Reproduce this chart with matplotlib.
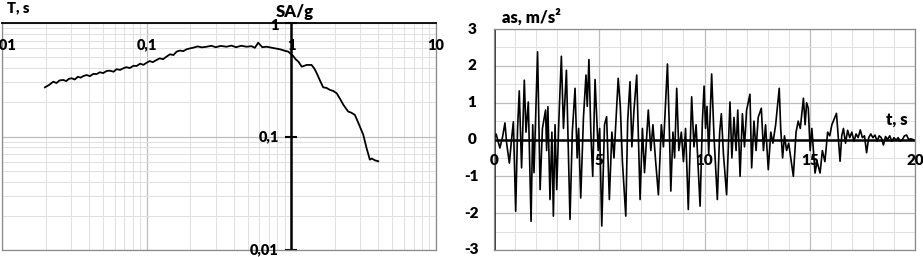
import matplotlib
matplotlib.use('Agg')
import matplotlib.pyplot as plt
from matplotlib.ticker import LogLocator, MultipleLocator, NullFormatter

plt.rcParams['font.family'] = ['Lato', 'DejaVu Sans']

# response spectrum (period T, s  ->  SA/g)
period = [0.0198, 0.0212, 0.0226, 0.0238, 0.0250, 0.0265, 0.0278, 0.0290, 0.0303, 0.0318,
          0.0335, 0.0350, 0.0365, 0.0385, 0.0405, 0.0428, 0.0451, 0.0475, 0.0500, 0.0530,
          0.0557, 0.0590, 0.0620, 0.0655, 0.0689, 0.0725, 0.0765, 0.0810, 0.0853, 0.0900,
          0.0950, 0.1000, 0.1050, 0.1100, 0.1170, 0.1230, 0.1300, 0.1370, 0.1450, 0.1530,
          0.1610, 0.1700, 0.1790, 0.1890, 0.2000, 0.2100, 0.2250, 0.2400, 0.2600, 0.2800,
          0.3000, 0.3250, 0.3570, 0.3850, 0.4150, 0.4500, 0.4910, 0.5300, 0.5600, 0.5900,
          0.6300, 0.6750, 0.7200, 0.7700, 0.8340, 0.8900, 0.9530, 1.0300, 1.0700, 1.1200,
          1.1800, 1.2300, 1.2800, 1.3800, 1.4400, 1.5000, 1.5800, 1.6600, 1.7500, 1.8500,
          1.9500, 2.0600, 2.1700, 2.2900, 2.4700, 2.6000, 2.7500, 2.9800, 3.1400, 3.3100,
          3.4900, 3.6000, 3.7800, 3.9900]
sa = [0.271, 0.285, 0.304, 0.296, 0.312, 0.315, 0.308, 0.322, 0.326, 0.318,
      0.336, 0.330, 0.341, 0.348, 0.340, 0.356, 0.355, 0.368, 0.362, 0.378,
      0.380, 0.372, 0.392, 0.386, 0.399, 0.408, 0.401, 0.420, 0.418, 0.438,
      0.428, 0.447, 0.462, 0.452, 0.472, 0.488, 0.480, 0.505, 0.530, 0.522,
      0.559, 0.572, 0.565, 0.587, 0.598, 0.606, 0.622, 0.610, 0.618, 0.630,
      0.612, 0.628, 0.618, 0.632, 0.612, 0.630, 0.618, 0.625, 0.605, 0.670,
      0.612, 0.618, 0.608, 0.598, 0.587, 0.572, 0.559, 0.512, 0.480, 0.456,
      0.412, 0.420, 0.427, 0.427, 0.398, 0.360, 0.310, 0.271, 0.268, 0.257,
      0.252, 0.240, 0.215, 0.190, 0.166, 0.162, 0.155, 0.122, 0.104, 0.0792,
      0.0625, 0.0640, 0.0617, 0.0605]

# accelerogram turning points (t, s  ->  as, m/s2)
t = [0.0, 0.1, 0.28, 0.4, 0.52, 0.6, 0.73, 0.85, 0.92, 1.03,
     1.12, 1.2, 1.31, 1.44, 1.52, 1.63, 1.76, 1.84, 1.9, 2.07,
     2.19, 2.3, 2.45, 2.5, 2.56, 2.66, 2.75, 2.82, 2.9, 2.98,
     3.08, 3.2, 3.3, 3.44, 3.61, 3.72, 3.85, 3.95, 4.02, 4.12,
     4.25, 4.37, 4.43, 4.51, 4.6, 4.69, 4.8, 4.95, 5.02, 5.12,
     5.25, 5.35, 5.48, 5.6, 5.7, 5.9, 6.0, 6.1, 6.26, 6.35,
     6.46, 6.55, 6.65, 6.78, 6.94, 7.05, 7.15, 7.33, 7.45, 7.55,
     7.68, 7.81, 7.95, 8.05, 8.24, 8.32, 8.4, 8.5, 8.58, 8.68,
     8.78, 8.9, 9.0, 9.1, 9.23, 9.39, 9.5, 9.6, 9.79, 9.9,
     9.98, 10.05, 10.12, 10.2, 10.34, 10.45, 10.61, 10.72, 10.8, 10.9,
     11.05, 11.21, 11.3, 11.4, 11.5, 11.58, 11.69, 11.8, 11.9, 12.0,
     12.16, 12.24, 12.35, 12.45, 12.55, 12.7, 12.8, 12.9, 13.03, 13.15,
     13.25, 13.38, 13.55, 13.62, 13.71, 13.8, 13.9, 14.0, 14.1, 14.22,
     14.35, 14.45, 14.55, 14.7, 14.78, 14.85, 14.93, 15.02, 15.1, 15.25,
     15.35, 15.49, 15.6, 15.72, 15.85, 15.95, 16.05, 16.27, 16.35, 16.44,
     16.52, 16.6, 16.7, 16.8, 16.9, 17.0, 17.1, 17.2, 17.3, 17.4,
     17.5, 17.6, 17.7, 17.8, 17.9, 18.0, 18.1, 18.2, 18.3, 18.4,
     18.5, 18.6, 18.7, 18.8, 18.9, 19.0, 19.1, 19.2, 19.3, 19.4,
     19.5, 19.6, 19.7, 19.8, 19.9]
acc = [0.0, 0.15, -0.23, 0.05, 0.45, -0.1, -0.64, 0.1, 0.48, -1.95,
       0.3, 1.32, -0.77, 1.61, 0.2, 1.02, -2.22, 0.4, -0.9, 2.38,
       -1.36, 0.3, 0.8, -0.3, 0.89, -1.63, 0.2, -2.08, 0.4, -1.36,
       0.5, 2.26, 0.3, 1.88, -2.17, 0.2, 1.39, -0.5, 0.3, -1.59,
       0.6, 1.75, 0.9, 2.17, 0.2, -1.0, 1.63, -0.3, 0.3, -2.35,
       0.4, 0.62, -1.63, 0.2, -0.5, 1.66, 0.9, -0.6, -2.08, 0.5,
       1.57, -0.2, 0.8, 1.75, -1.63, 0.3, -0.9, 0.8, -0.3, 0.4,
       -0.6, -1.5, 0.4, -0.2, 2.05, 0.5, -1.4, 0.2, -0.5, 1.39,
       -0.3, 0.2, -0.6, 0.3, -1.9, 1.16, -0.2, 0.4, -1.81, 0.5,
       1.45, 0.3, 0.9, -0.4, 1.78, 0.1, -1.63, 0.2, 0.7, -0.4,
       -1.5, 1.02, -0.5, 0.6, -0.3, 0.8, -1.0, 0.7, -0.2, 0.8,
       1.23, -0.77, 0.5, -0.3, 0.6, 0.85, -0.3, 0.4, -0.82, 0.2,
       -0.1, 0.4, 1.39, 0.3, -0.5, 0.1, -0.3, -0.1, -0.5, -1.0,
       0.2, 0.5, 0.3, 1.12, 0.4, 1.0, 0.85, -0.3, 0.3, -0.91,
       -0.6, -0.91, -0.3, -0.6, 0.2, 0.1, 0.4, 0.71, 0.1, -0.59,
       0.1, 0.3, -0.1, 0.25, 0.05, 0.2, -0.05, 0.15, 0.05, 0.26,
       0.05, 0.1, -0.36, 0.05, 0.15, 0.05, 0.12, -0.05, 0.1, 0.05,
       -0.15, 0.08, 0.0, 0.1, -0.05, 0.05, -0.02, 0.05, -0.05, 0.0,
       0.1, 0.12, 0.0, 0.02, 0.0]

sa_ticks = [1, 0.1, 0.01]
sa_labels = ['1', '0,1', '0,01']
t_ticks = [0.01, 0.1, 1, 10]
t_labels = ['0,01', '0,1', '1', '10']
acc_ticks = [3, 2, 1, 0, -1, -2, -3]
time_ticks = [0, 5, 10, 15, 20]

fig = plt.figure(figsize=(9.23, 2.57), dpi=100)
bold = dict(fontweight='heavy', color='black')

# ---- left: spectrum ----
ax1 = fig.add_axes([2 / 923, 7 / 257, 434 / 923, 227 / 257])
ax1.set_xscale('log')
ax1.set_yscale('log')
ax1.set_xlim(0.01, 10)
ax1.set_ylim(0.01, 1)
ax1.xaxis.set_minor_locator(LogLocator(base=10, subs=range(2, 10)))
ax1.yaxis.set_minor_locator(LogLocator(base=10, subs=range(2, 10)))
ax1.xaxis.set_minor_formatter(NullFormatter())
ax1.yaxis.set_minor_formatter(NullFormatter())
ax1.grid(which='major', color='#bdbdbd', lw=0.9)
ax1.grid(which='minor', color='#e0e0e0', lw=0.7)
ax1.tick_params(which='both', length=0, labelbottom=False, labelleft=False)
for side in ['left', 'right', 'bottom']:
    ax1.spines[side].set_color('#8a8a8a')
    ax1.spines[side].set_linewidth(0.9)
ax1.spines['top'].set_color('black')
ax1.spines['top'].set_linewidth(1.3)
ax1.axvline(1, color='black', lw=1.8)
ax1.plot([1] * len(sa_ticks), sa_ticks, ls='none', marker='_', ms=9, mew=1.5, color='black',
         clip_on=False)
ax1.plot(period, sa, color='black', lw=1.3)
for v, lbl in zip(t_ticks, t_labels):
    ax1.annotate(lbl, (v, 1), xytext=(0, -16), textcoords='offset points',
                 ha='center', va='center', fontsize=10.5, **bold)
for v, lbl in zip(sa_ticks, sa_labels):
    ax1.annotate(lbl, (1, v), xytext=(-9, -2 if v == 1 else 0), textcoords='offset points',
                 ha='right', va='center', fontsize=10.5, **bold)
fig.text(18 / 923, 1 - 8 / 257, 'T, s', ha='center', va='center', fontsize=10.5, **bold)
fig.text(295 / 923, 1 - 12 / 257, 'SA/g', ha='center', va='center', fontsize=12, **bold)

# ---- right: accelerogram ----
ax2 = fig.add_axes([494 / 923, 7 / 257, 421 / 923, 221 / 257])
ax2.set_xlim(0, 20)
ax2.set_ylim(-3, 3)
ax2.xaxis.set_major_locator(MultipleLocator(5))
ax2.xaxis.set_minor_locator(MultipleLocator(1))
ax2.yaxis.set_major_locator(MultipleLocator(1))
ax2.yaxis.set_minor_locator(MultipleLocator(0.5))
ax2.grid(which='major', color='#bdbdbd', lw=0.9)
ax2.grid(which='minor', color='#e0e0e0', lw=0.7)
ax2.tick_params(which='both', length=0, labelbottom=False, labelleft=False)
for side in ax2.spines:
    ax2.spines[side].set_color('#8a8a8a')
    ax2.spines[side].set_linewidth(0.9)
ax2.axhline(0, color='black', lw=1.8)
ax2.axvline(0, color='black', lw=1.8)
ax2.plot(t, acc, color='black', lw=1.2)
for v in acc_ticks:
    ax2.annotate(str(v), (0, v), xytext=(-16, 0), textcoords='offset points',
                 ha='center', va='center', fontsize=11, annotation_clip=False, **bold)
for v in time_ticks:
    ax2.annotate(str(v), (v, 0), xytext=(0, -15), textcoords='offset points',
                 ha='center', va='center', fontsize=11, annotation_clip=False, **bold)
fig.text(531 / 923, 1 - 17 / 257, 'as, m/s²', ha='center', va='center', fontsize=12, **bold)
fig.text(897 / 923, 1 - 120 / 257, 't, s', ha='center', va='center', fontsize=12, **bold)

fig.savefig('out.png', dpi=100)
